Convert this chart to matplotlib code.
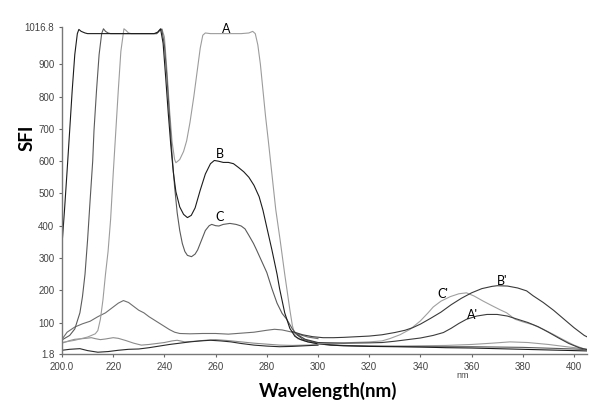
import matplotlib
matplotlib.use('Agg')
import matplotlib.pyplot as plt

# ---- data ----
# big excitation curves (saturate at the top of the scale)
a_nm = [200, 205, 210, 213, 214, 215, 216, 217, 218, 219, 220, 221, 222, 223, 224.2, 225, 226, 227,
        237, 238, 239, 240, 241, 242, 243, 244, 244.5, 246, 247.5, 248.7, 250, 251.5, 253, 254, 255,
        256, 258, 262, 266, 270, 273, 274.5, 275.5, 276.5, 277.5, 278.5, 279.5, 280.6, 282, 283.5,
        285.2, 287, 289, 290, 291, 292, 295, 300, 305, 310, 320, 330, 340, 350, 360, 368, 375, 382,
        390, 398, 405]
a_val = [38, 45, 55, 65, 75, 110, 170, 250, 320, 420, 560, 690, 820, 940, 1010, 1005, 997, 995,
         995, 1002, 1010, 985, 880, 760, 660, 605, 595, 605, 630, 663, 720, 800, 890, 950, 990,
         997, 995, 995, 995, 995, 997, 1002, 995, 960, 900, 820, 740, 663, 560, 450,
         356, 250, 140, 90, 62, 50, 42, 34, 30, 28, 27, 27, 28, 29, 32, 36, 40, 38,
         32, 24, 18]

b_nm = [200, 201, 202, 203, 204, 205, 206, 206.6, 207.5, 209, 210, 236, 237.5, 238.5, 239.5, 240.5,
        241.5, 242.5, 243.5, 244.5, 246, 247.5, 249, 250.5, 252, 254, 256, 258, 259.5, 261, 263, 265,
        267, 269, 271, 273, 275, 277, 278.5, 280, 282, 284, 285, 287, 289, 291, 293, 296, 300, 305,
        310, 320, 330, 340, 350, 360, 370, 380, 390, 400, 405]
b_val = [340, 450, 570, 694, 820, 930, 995, 1008, 1002, 997, 995, 995, 1000, 1010, 965, 860,
         750, 650, 565, 505, 458, 435, 425, 432, 455, 510, 560, 592, 602, 600, 596, 596,
         592, 580, 567, 550, 525, 490, 448, 395, 325, 250, 205, 130, 82, 57, 48, 40, 34, 30,
         28, 26, 25, 24, 22, 21, 19, 17, 15, 13, 12]

c_nm = [200, 203, 205, 207, 208, 209, 210, 211, 212, 212.5, 213.5, 214.5, 215.5, 216.2, 217, 218,
        219, 237, 238, 239, 240, 241, 242, 243, 244, 245, 246, 247, 248, 249, 250.6, 252, 253,
        254.5, 256, 257.5, 258.5, 260, 261.3, 263, 265.6, 268, 270, 271.5, 273, 274.8, 276, 278,
        280, 282, 284, 286, 287.8, 290, 291.7, 294, 300, 305, 310, 320, 330, 340, 360, 380, 400, 405]
c_val = [46, 60, 80, 130, 180, 250, 356, 480, 600, 694, 820, 930, 995, 1010, 1002, 997,
         995, 995, 1005, 1008, 960, 860, 740, 620, 520, 440, 385, 345, 320, 308, 304, 312, 325,
         355, 385, 400, 404, 400, 399, 404, 407, 404, 399, 390, 370, 345, 325, 290,
         255, 205, 160, 128, 110, 80, 63, 48, 36, 31, 29, 27, 26, 25, 25, 23, 18, 16]

# low curves in the excitation region
d_nm = [200, 202, 205, 208, 211, 214, 217, 220, 222, 224, 226, 228, 230, 232, 234, 236, 238, 240,
        242, 244, 246, 250, 255, 260, 265, 270, 275, 280, 283, 286, 290, 293, 296, 300]
d_val = [48, 70, 86, 96, 104, 118, 130, 148, 160, 168, 162, 150, 138, 130, 118, 108, 98, 88,
         78, 70, 66, 65, 66, 66, 64, 67, 70, 76, 79, 77, 70, 62, 55, 50]

e_nm = [200, 203, 205, 208, 211.5, 213, 215, 217, 220, 222, 225, 228, 231, 234, 237, 240, 243,
        245, 248, 252, 256, 260, 265, 270, 275, 280, 285, 290, 295, 300]
e_val = [36, 44, 48, 50, 53, 50, 47, 49, 53, 51, 44, 36, 30, 32, 35, 38, 43,
         45, 40, 42, 45, 47, 44, 40, 36, 33, 30, 29, 30, 31]

f_nm = [200, 203, 207, 210, 214, 218, 222, 226, 230, 234, 238, 242, 246, 250, 254, 258, 262,
        266, 270, 275, 280, 285, 290, 295, 300]
f_val = [14, 17, 19, 13, 8, 10, 14, 17, 18, 22, 27, 32, 36, 40, 43, 45, 43,
         40, 35, 30, 27, 25, 26, 28, 30]

# emission curves
a2_nm = [292, 295, 300, 310, 320, 325, 330, 335, 340, 345, 349, 352, 355, 358, 362, 366, 370,
         374, 378, 382, 386, 390, 394, 398, 402, 405]
a2_val = [62, 48, 38, 36, 37, 38, 42, 47, 52, 60, 69, 82, 97, 110, 120, 125, 125,
          120, 110, 100, 87, 70, 52, 35, 22, 16]

b2_nm = [290, 294, 298, 302, 306, 310, 315, 320, 325, 330, 334, 337, 340, 344, 348, 352, 356,
         360, 364, 368, 370, 374, 378, 381.5, 384, 388, 392, 396, 400, 404, 405]
b2_val = [72, 62, 56, 53, 53, 54, 56, 58, 62, 69, 76, 84, 95, 113, 132, 155, 175,
          192, 205, 212, 214, 213, 207, 198, 183, 162, 138, 111, 84, 60, 56]

c2_nm = [300, 310, 320, 325, 328, 332, 336, 340, 343, 345, 348, 351.6, 355, 358, 361, 364.6, 368,
         371, 373.7, 377, 380, 384, 388, 392, 396, 400, 404, 405]
c2_val = [34, 37, 40, 43, 50, 62, 79, 105, 130, 148, 166, 180, 189, 192, 182, 166, 152,
          140, 130, 110, 102, 93, 79, 63, 46, 30, 18, 16]

y_ticks = [1.8, 100, 200, 300, 400, 500, 600, 700, 800, 900, 1016.8]
y_labels = ['1.8', '100', '200', '300', '400', '500', '600', '700', '800', '900', '1016.8']
x_ticks = [200, 220, 240, 260, 280, 300, 320, 340, 360, 380, 400]
x_labels = ['200.0', '220', '240', '260', '280', '300', '320', '340', '360', '380', '400']

fig = plt.figure(figsize=(6, 4.18), dpi=100)
ax = fig.add_axes([0.1033, 0.1526, 0.8747, 0.7838])

lw = 0.8
ax.plot(d_nm, d_val, color='#6e6e6e', lw=lw)
ax.plot(e_nm, e_val, color='#8c8c8c', lw=lw)
ax.plot(f_nm, f_val, color='#2a2a2a', lw=lw)
ax.plot(a_nm, a_val, color='#9c9c9c', lw=lw)
ax.plot(c_nm, c_val, color='#5a5a5a', lw=lw)
ax.plot(b_nm, b_val, color='#1c1c1c', lw=lw)
ax.plot(c2_nm, c2_val, color='#a0a0a0', lw=lw)
ax.plot(a2_nm, a2_val, color='#3c3c3c', lw=lw)
ax.plot(b2_nm, b2_val, color='#3a3a3a', lw=lw)

lab_font = dict(family='Lato', fontsize=9, color='black', ha='center', va='center')
ax.text(264, 1010, 'A', **lab_font)
ax.text(261.7, 622, 'B', **lab_font)
ax.text(261.7, 428, 'C', **lab_font)
ax.text(348.7, 188, "C'", **lab_font)
ax.text(371.8, 230, "B'", **lab_font)
ax.text(360.4, 124, "A'", **lab_font)

ax.set_xlim(200, 405)
ax.set_ylim(1.8, 1016.8)
ax.set_xticks(x_ticks)
ax.set_xticklabels(x_labels)
ax.set_yticks(y_ticks)
ax.set_yticklabels(y_labels)
ax.tick_params(labelsize=7, labelcolor='#444444', length=2.5, width=0.8,
               color='#666666', pad=3)
for lbl in ax.get_xticklabels() + ax.get_yticklabels():
    lbl.set_family('Liberation Sans')

for s in ['top', 'right']:
    ax.spines[s].set_visible(False)
for s in ['left', 'bottom']:
    ax.spines[s].set_color('#777777')
    ax.spines[s].set_linewidth(1.0)

fig.text(463 / 600, 1 - 375 / 418, 'nm', fontsize=6.5, color='#444444',
         ha='center', va='center', family='Liberation Sans')
fig.text(328 / 600, 1 - 391 / 418, 'Wavelength(nm)', fontsize=13.5, fontweight='bold',
         family='Lato', ha='center', va='center')
fig.text(27 / 600, 1 - 138 / 418, 'SFI', fontsize=13.5, fontweight='bold',
         family='Lato', ha='center', va='center', rotation=90)

fig.savefig('out.png', dpi=100)
